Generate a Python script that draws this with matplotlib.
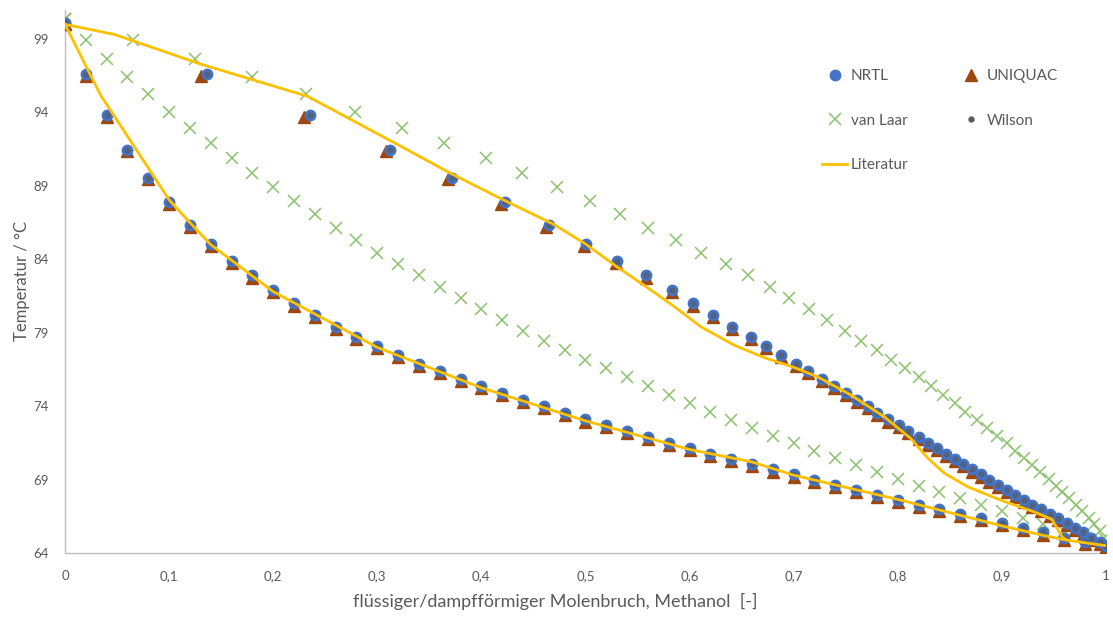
import matplotlib
matplotlib.use("Agg")
import matplotlib.pyplot as plt
from matplotlib.lines import Line2D

plt.rcParams['font.family'] = ['Lato', 'DejaVu Sans']

# liquid mole fraction methanol (all models)
x_liq = [0.00, 0.02, 0.04, 0.06, 0.08, 0.10, 0.12, 0.14, 0.16, 0.18,
         0.20, 0.22, 0.24, 0.26, 0.28, 0.30, 0.32, 0.34, 0.36, 0.38,
         0.40, 0.42, 0.44, 0.46, 0.48, 0.50, 0.52, 0.54, 0.56, 0.58,
         0.60, 0.62, 0.64, 0.66, 0.68, 0.70, 0.72, 0.74, 0.76, 0.78,
         0.80, 0.82, 0.84, 0.86, 0.88, 0.90, 0.92, 0.94, 0.96, 0.98, 1.00]

# NRTL
nrtl_T = [100.1, 96.6, 93.8, 91.45, 89.55, 87.9, 86.35, 85.05, 83.9, 82.9,
          81.9, 81.0, 80.2, 79.4, 78.7, 78.1, 77.5, 76.9, 76.4, 75.85,
          75.4, 74.9, 74.4, 74.0, 73.55, 73.1, 72.7, 72.3, 71.9, 71.5,
          71.15, 70.75, 70.4, 70.05, 69.7, 69.35, 69.0, 68.65, 68.3, 67.95,
          67.6, 67.3, 67.0, 66.65, 66.4, 66.05, 65.7, 65.4, 65.05, 64.75, 64.5]
nrtl_y = [0.0, 0.136, 0.235, 0.312, 0.372, 0.4225, 0.465, 0.501, 0.530, 0.558,
          0.583, 0.6035, 0.623, 0.641, 0.659, 0.673, 0.688, 0.702, 0.714, 0.727,
          0.739, 0.750, 0.761, 0.771, 0.780, 0.791, 0.801, 0.810, 0.820, 0.829,
          0.838, 0.846, 0.855, 0.863, 0.871, 0.880, 0.888, 0.896, 0.905, 0.913,
          0.921, 0.929, 0.938, 0.946, 0.954, 0.9625, 0.970, 0.978, 0.986, 0.994, 1.0]

# UNIQUAC
uniquac_T = [100.0, 96.5, 93.7, 91.35, 89.45, 87.75, 86.2, 84.9, 83.75, 82.75,
             81.75, 80.85, 80.05, 79.25, 78.55, 77.95, 77.35, 76.75, 76.25, 75.7,
             75.25, 74.75, 74.25, 73.85, 73.4, 72.95, 72.55, 72.15, 71.75, 71.35,
             71.0, 70.6, 70.25, 69.9, 69.55, 69.2, 68.85, 68.5, 68.15, 67.8,
             67.45, 67.15, 66.85, 66.5, 66.25, 65.9, 65.55, 65.25, 64.9, 64.6, 64.4]
uniquac_y = [0.0, 0.131, 0.230, 0.308, 0.368, 0.419, 0.462, 0.499, 0.529, 0.558,
             0.583, 0.6035, 0.623, 0.641, 0.659, 0.673, 0.688, 0.702, 0.714, 0.727,
             0.739, 0.750, 0.761, 0.771, 0.780, 0.791, 0.801, 0.810, 0.820, 0.829,
             0.838, 0.846, 0.855, 0.863, 0.871, 0.880, 0.888, 0.896, 0.905, 0.913,
             0.921, 0.929, 0.938, 0.946, 0.954, 0.9625, 0.970, 0.978, 0.986, 0.994, 1.0]

# Wilson
wilson_T = list(nrtl_T)
wilson_y = list(nrtl_y)

# van Laar
vanlaar_T = [100.35, 98.95, 97.65, 96.4, 95.25, 94.05, 92.97, 91.9, 90.88, 89.9,
             88.95, 87.97, 87.07, 86.16, 85.28, 84.46, 83.67, 82.9, 82.1, 81.35,
             80.6, 79.87, 79.14, 78.46, 77.83, 77.15, 76.58, 75.97, 75.38, 74.76,
             74.2, 73.59, 73.06, 72.54, 72.0, 71.47, 70.97, 70.5, 70.0, 69.5,
             69.03, 68.57, 68.18, 67.73, 67.27, 66.89, 66.37, 65.98, 65.5, 65.0, 64.6]
vanlaar_y = [0.0, 0.065, 0.125, 0.18, 0.232, 0.279, 0.324, 0.364, 0.404, 0.439,
             0.473, 0.504, 0.533, 0.560, 0.587, 0.611, 0.635, 0.656, 0.677, 0.696,
             0.715, 0.732, 0.749, 0.765, 0.780, 0.794, 0.807, 0.820, 0.832, 0.844,
             0.855, 0.865, 0.876, 0.886, 0.895, 0.905, 0.913, 0.921, 0.929, 0.937,
             0.945, 0.952, 0.958, 0.965, 0.971, 0.977, 0.984, 0.989, 0.994, 0.998, 1.0]

# Literatur (boiling and dew line)
lit_liq_x = [0.0, 0.034, 0.10, 0.12, 0.14, 0.20, 0.30, 0.40, 0.50, 0.60,
             0.66, 0.70, 0.80, 0.90, 0.94, 0.96, 0.99, 1.0]
lit_liq_T = [100.0, 95.2, 88.05, 86.5, 85.0, 81.8, 78.0, 75.25, 73.0, 71.05,
             70.2, 69.3, 67.65, 65.85, 65.2, 64.9, 64.6, 64.5]
lit_vap_y = [0.0, 0.048, 0.13, 0.233, 0.322, 0.37, 0.421, 0.469, 0.50, 0.53,
             0.558, 0.585, 0.611, 0.643, 0.672, 0.70, 0.723, 0.755, 0.787, 0.8125,
             0.829, 0.845, 0.867, 0.899, 0.931, 0.948, 0.958, 0.962]
lit_vap_T = [100.0, 99.3, 97.3, 95.1, 91.72, 89.87, 88.05, 86.4, 85.05, 83.5,
             82.15, 80.8, 79.4, 78.15, 77.3, 76.65, 76.0, 74.76, 73.28, 71.8,
             70.45, 69.43, 68.52, 67.6, 66.8, 66.3, 65.1, 64.9]

x_ticks = [0, 0.1, 0.2, 0.3, 0.4, 0.5, 0.6, 0.7, 0.8, 0.9, 1.0]
x_tick_labels = ['0', '0,1', '0,2', '0,3', '0,4', '0,5', '0,6', '0,7', '0,8', '0,9', '1']
y_ticks = [64, 69, 74, 79, 84, 89, 94, 99]

c_nrtl = '#4472C4'
c_uniquac = '#9E480E'
c_vanlaar = '#8CC26E'
c_wilson = '#5A5A5A'
c_lit = '#FFC000'
c_text = '#595959'
c_axis = '#BFBFBF'

fig = plt.figure(figsize=(11.13, 6.26), dpi=100)
ax = fig.add_axes([0.0584, 0.1166, 0.9352, 0.868])

ax.plot(x_liq, uniquac_T, linestyle='none', marker='^', ms=8, color=c_uniquac, zorder=3)
ax.plot(uniquac_y, uniquac_T, linestyle='none', marker='^', ms=8, color=c_uniquac, zorder=3)
ax.plot(x_liq, nrtl_T, linestyle='none', marker='o', ms=7.5, color=c_nrtl, zorder=4)
ax.plot(nrtl_y, nrtl_T, linestyle='none', marker='o', ms=7.5, color=c_nrtl, zorder=4)
ax.plot(x_liq, vanlaar_T, linestyle='none', marker='x', ms=9, mew=1.1, color=c_vanlaar, zorder=2)
ax.plot(vanlaar_y, vanlaar_T, linestyle='none', marker='x', ms=9, mew=1.1, color=c_vanlaar, zorder=2)
ax.plot(x_liq, wilson_T, linestyle='none', marker='o', ms=3.5, color=c_wilson, alpha=0.6, zorder=5)
ax.plot(wilson_y, wilson_T, linestyle='none', marker='o', ms=3.5, color=c_wilson, alpha=0.6, zorder=5)
ax.plot(lit_liq_x, lit_liq_T, color=c_lit, lw=2, zorder=6)
ax.plot(lit_vap_y, lit_vap_T, color=c_lit, lw=2, zorder=6)

ax.set_xlim(0, 1)
ax.set_ylim(64, 101)
ax.set_xticks(x_ticks)
ax.set_xticklabels(x_tick_labels)
ax.set_yticks(y_ticks)
ax.tick_params(length=0, labelsize=9.5, labelcolor=c_text)
ax.tick_params(axis='x', pad=12)
ax.tick_params(axis='y', pad=12)
for side in ['top', 'right']:
    ax.spines[side].set_visible(False)
for side in ['left', 'bottom']:
    ax.spines[side].set_color(c_axis)
    ax.spines[side].set_linewidth(1)

ax.set_xlabel('flüssiger/dampfförmiger Molenbruch, Methanol  [-]', fontsize=13,
              color=c_text, labelpad=8)
ax.xaxis.label.set_x(0.471)
ax.set_ylabel('Temperatur / °C', fontsize=12, color=c_text, labelpad=2)

# legend, order chosen for two columns filled top-down
handles = [
    Line2D([], [], linestyle='none', marker='o', ms=7.5, color=c_nrtl),
    Line2D([], [], linestyle='none', marker='x', ms=9, mew=1.1, color=c_vanlaar),
    Line2D([], [], color=c_lit, lw=2),
    Line2D([], [], linestyle='none', marker='^', ms=8, color=c_uniquac),
    Line2D([], [], linestyle='none', marker='o', ms=3.5, color=c_wilson),
]
labels = ['NRTL', 'van Laar', 'Literatur', 'UNIQUAC', 'Wilson']
leg = fig.legend(handles, labels, ncol=2, loc='upper left',
                 bbox_to_anchor=(0.732, 0.902), frameon=False,
                 fontsize=11, handlelength=1.6, handletextpad=0.25,
                 labelspacing=2.0, columnspacing=3.3, borderpad=0)
for t in leg.get_texts():
    t.set_color(c_text)

fig.savefig('out.png', dpi=100)
